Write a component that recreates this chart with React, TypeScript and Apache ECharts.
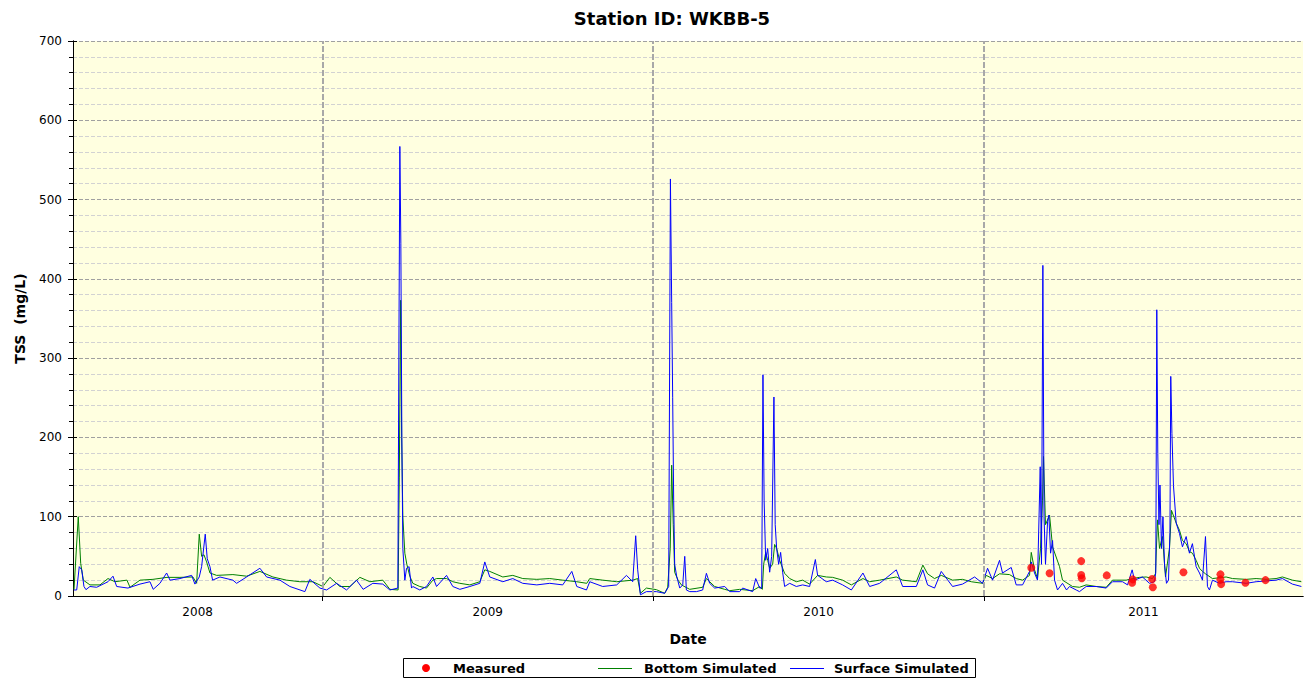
import React, { useEffect, useRef } from "react";
import * as echarts from "echarts";

// x values are days since 2008-04-01 (start of the plotted period)
const START_DATE = "2008-04-01";
const TOTAL_DAYS = 1357;
const yearBoundaryDays = [275, 640, 1005]; // Jan 1 of 2009, 2010, 2011
const yearLabels = ["2008", "2009", "2010", "2011"];
const yearLabelDays = [137.5, 457.5, 822.5, 1181];

const bottomSimulated: [number, number][] = [
  [1.1, 8], [5.8, 100], [8.5, 41], [11.4, 20], [18.7, 14], [29.8, 14], [38.6, 22], [46.3, 18], [59.5, 20], [62.9, 11],
  [73.9, 20], [88.2, 21], [103.7, 23.5], [118, 23.5], [132.3, 24], [136.4, 16], [139.3, 78], [141.9, 50], [144.5, 52], [147.4, 43],
  [151.1, 29], [158.5, 26], [176.4, 27], [191.5, 25], [206.2, 31], [220.5, 24], [235.6, 20], [250.3, 18], [264.7, 18], [275.7, 12],
  [283.4, 23.5], [294.4, 12], [305.5, 12], [316.5, 23.5], [327.5, 18], [341.8, 20], [349.6, 8.4], [358.7, 7.6], [360, 150], [361.5, 373],
  [362.6, 200], [363.9, 100], [366.1, 54], [368.3, 40], [371.6, 25], [374.9, 16], [382.6, 12], [390, 10], [397, 20], [401.1, 22],
  [412.1, 22], [419, 18], [426.8, 16], [437.8, 14], [448.8, 18], [454.3, 33], [459.8, 31], [474.2, 24], [485.2, 26], [496.2, 22],
  [511.7, 21], [526, 22], [540.3, 20], [555.8, 18], [566.8, 16], [570.1, 22], [584.4, 20], [599.9, 18], [617.5, 20], [623, 22],
  [626, 3.4], [632.6, 10], [643.6, 8], [652.8, 3.4], [656.1, 11], [658.9, 60], [660.5, 165], [662.2, 90], [663.8, 30], [667.5, 20],
  [671.2, 14], [680.4, 8.4], [694.7, 11], [698.8, 22], [702.4, 18], [707.9, 12], [719, 8.4], [724.5, 6.7], [735.5, 8.4], [749.8, 6.7],
  [757.6, 12], [760.5, 8.4], [762, 40], [764.2, 55], [766.4, 45], [768.6, 35], [771.9, 40], [774.1, 65], [776.3, 60], [779.6, 45],
  [785.1, 28.6], [790.7, 22], [798, 18], [805, 20], [812.7, 15], [821.5, 26], [831.1, 24], [838.1, 23.5], [849.1, 20], [858.7, 14],
  [871.5, 22], [878.9, 18], [889.9, 20], [908.3, 24], [915.3, 20], [930.4, 18], [937.6, 39], [942.8, 28], [950.5, 22], [957.9, 26],
  [970.4, 20], [981.4, 21], [991, 18], [1003.5, 16], [1007.5, 26], [1014.5, 22], [1022.2, 28], [1033.2, 27], [1040.6, 22], [1047.6, 20],
  [1055.3, 26], [1057.2, 55], [1060.8, 33], [1064.1, 22], [1067.4, 60], [1069.6, 120], [1070.7, 176], [1072.9, 90], [1077.4, 102], [1080.7, 62],
  [1088.4, 37], [1091.7, 20], [1102.7, 12], [1110.4, 11], [1117.8, 14], [1128.8, 12], [1139.9, 11], [1146.8, 20], [1161.9, 20], [1168.9, 22],
  [1176.6, 23.5], [1184, 24], [1190.9, 22], [1194.2, 28], [1196.5, 96], [1198.7, 60], [1202, 75], [1205.3, 24], [1209.7, 60], [1211.9, 108],
  [1217.1, 92], [1220.7, 83], [1224, 70], [1228.1, 66], [1231.7, 56], [1235, 54], [1239.1, 45], [1242.8, 35], [1246.1, 31], [1249.4, 28],
  [1257.1, 22], [1264.8, 23], [1272.2, 24], [1279.2, 22], [1294.3, 21], [1305.3, 22], [1316.3, 21], [1327.3, 22], [1334.3, 24], [1345.3, 20],
  [1355.2, 18],
];

const surfaceSimulated: [number, number][] = [
  [1.1, 7.6], [4.1, 7.6], [6.9, 37], [9.6, 33], [12.1, 12], [14.3, 8], [18.7, 12], [26.1, 11], [38.6, 18], [44.1, 25],
  [48.2, 12], [60.6, 10], [73.9, 15], [84.9, 18], [88.5, 8.4], [95.9, 16], [103.3, 29], [107, 20], [118, 22], [130.9, 26],
  [134.5, 15], [139.3, 24], [141.9, 37], [145.9, 78], [148.1, 47], [151.1, 37], [154, 20], [162.1, 24], [176.4, 20], [180.5, 16],
  [191.5, 24], [206.2, 35], [213.6, 24], [228.3, 20], [239.3, 12], [255.8, 5.5], [261.3, 21], [272.4, 10], [279.8, 7.6], [290.8, 16],
  [301.8, 7.6], [312.8, 20], [320.1, 8.4], [330.8, 16], [341.8, 15], [349.6, 7.6], [358.4, 10], [359.5, 300], [360.6, 567], [361.7, 445],
  [362.8, 200], [363.9, 60], [366.1, 20], [368, 35], [370.8, 37], [373.5, 10], [374.9, 12], [382.6, 7.6], [390, 12], [397, 24],
  [401.1, 12], [412.1, 26], [419, 12], [426.8, 8.4], [437.8, 12], [448.8, 16], [454.3, 43], [459.8, 24], [474.2, 18], [485.2, 22],
  [496.2, 16], [511.7, 14], [526, 16], [540.3, 14], [550.3, 31], [555.8, 12], [566.5, 7.6], [570.1, 18], [584.4, 12], [599.9, 14],
  [610.6, 26], [617.5, 18], [620.8, 76], [623, 33], [626, 1.5], [632.6, 5.5], [643.6, 5.5], [652.8, 3.4], [657.2, 12], [659.1, 526],
  [660.5, 370], [661.6, 250], [662.7, 120], [663.8, 40], [666, 25], [669.4, 10], [672.7, 14], [674.9, 50], [676.7, 7.6], [680.4, 5.5],
  [687.8, 5.5], [694.7, 7.6], [698.8, 28.6], [702.4, 16], [707.9, 10], [719, 12], [724.5, 5.5], [735.5, 5.5], [738.8, 10], [749.8, 5.5],
  [753.2, 22], [757.6, 10], [759.8, 10], [761.2, 279], [762.5, 120], [764.2, 45], [766.4, 60], [768.6, 30], [770.8, 50], [773.3, 251],
  [774.7, 90], [776.3, 60], [778.5, 40], [780.7, 55], [782.9, 30], [785.1, 12], [790.7, 16], [798, 12], [805, 14], [812.7, 12],
  [819, 46], [821.5, 26], [831.1, 18], [838.1, 20], [849.1, 14], [858.7, 7.6], [871.5, 29], [878.9, 12], [889.9, 16], [908.3, 33],
  [915.3, 12], [930.4, 12], [937.6, 33], [942.8, 14], [950.5, 10], [957.9, 31], [970.4, 12], [981.4, 15], [994.7, 24], [1003.5, 16],
  [1009, 35], [1014.5, 20], [1022.2, 45], [1025.5, 29], [1035.1, 36], [1040.6, 14], [1047.6, 14], [1055.3, 31], [1057.2, 43], [1060.8, 29],
  [1064.1, 20], [1067.1, 163], [1068.5, 40], [1070, 417], [1071.3, 100], [1072.9, 40], [1075.2, 94], [1076.6, 102], [1078.5, 54], [1080.7, 70],
  [1082.9, 20], [1086.2, 7.6], [1091.7, 16], [1096.1, 7.6], [1099.4, 12], [1106.8, 7.6], [1110.4, 5.5], [1117.8, 12], [1128.8, 12], [1139.9, 10],
  [1146.8, 18], [1157.9, 18], [1163.4, 14], [1168.5, 33], [1171.1, 20], [1179.9, 24], [1187.6, 16], [1193.1, 18], [1194.6, 30], [1195.7, 361],
  [1196.8, 180], [1198.1, 90], [1199.2, 140], [1200.9, 60], [1202.5, 100], [1204.2, 40], [1206.4, 16], [1208.6, 20], [1210.2, 80], [1211.1, 277],
  [1212.4, 205], [1214.1, 139], [1217.1, 92], [1220.7, 79], [1224, 62], [1228.1, 75], [1231.7, 54], [1235, 66], [1239.1, 37], [1242.8, 29],
  [1246.1, 20], [1249.4, 75], [1251.6, 12], [1253.8, 7.6], [1257.1, 20], [1264.8, 16], [1272.2, 18], [1279.2, 18], [1294.3, 16], [1305.3, 18],
  [1316.3, 19], [1327.3, 20], [1334.3, 22], [1345.3, 15], [1355.2, 12],
];

const measured: [number, number][] = [
  [1057.2, 35.7], [1077.4, 28.6], [1112.3, 44], [1112.3, 26.5], [1112.9, 22.3], [1140.5, 26], [1168.5, 16.8], [1169.2, 21],
  [1190.6, 21.4], [1191.3, 11], [1225.1, 30], [1265.9, 27.3], [1265.9, 21], [1266.7, 15], [1293.5, 16.8], [1315.6, 20],
];

const seriesNames = ["Measured", "Bottom Simulated", "Surface Simulated"];

const FONT = "'DejaVu Sans', Verdana, sans-serif";
const GREEN = "#008000";
const BLUE = "#0000FF";
const RED = "#FF0000";

export default function App() {
  const ref = useRef<HTMLDivElement>(null);
  useEffect(() => {
    if (!ref.current) return;
    const chart = echarts.init(ref.current, null, { renderer: "svg" });
    const baseText = { fontFamily: FONT, color: "#000" };
    const legendTextStyle = (text: string, x: number) => ({
      type: "text",
      x,
      y: 668,
      style: {
        text,
        fill: "#000",
        fontFamily: FONT,
        fontSize: 13,
        fontWeight: "bold",
        verticalAlign: "middle",
        align: "left",
      },
    });
    const option: any = {
      animation: false,
      backgroundColor: "#ffffff",
      title: {
        text: "Station ID: WKBB-5",
        left: 667,
        top: 4,
        textAlign: "center",
        textStyle: { ...baseText, fontSize: 18, fontWeight: "bold" },
      },
      grid: {
        left: 73,
        right: 8,
        top: 41,
        bottom: 83,
        show: true,
        backgroundColor: "#FFFFE0",
        borderWidth: 0,
      },
      xAxis: [
        {
          type: "value",
          min: 0,
          max: TOTAL_DAYS,
          axisLine: { show: true, lineStyle: { color: "#000", width: 1 } },
          axisTick: { show: true, customValues: yearBoundaryDays, length: 5, lineStyle: { color: "#000" } },
          axisLabel: {
            customValues: yearLabelDays,
            formatter: (v: number) => {
              const i = yearLabelDays.indexOf(v);
              return i >= 0 ? yearLabels[i] : "";
            },
            margin: 10,
            ...baseText,
            fontSize: 12,
          },
          splitLine: { show: false },
          name: "Date",
          nameLocation: "middle",
          nameGap: 36,
          nameTextStyle: { ...baseText, fontSize: 14, fontWeight: "bold" },
        },
        {
          type: "value",
          position: "top",
          min: 0,
          max: TOTAL_DAYS,
          axisLine: { show: true, lineStyle: { color: "#000", width: 1 } },
          axisTick: { show: false },
          axisLabel: { show: false },
          splitLine: { show: false },
        },
      ],
      yAxis: [
        {
          type: "value",
          min: 0,
          max: 700,
          interval: 100,
          axisLine: { show: true, lineStyle: { color: "#000", width: 1 } },
          axisTick: { show: true, length: 5, lineStyle: { color: "#000" } },
          minorTick: { show: true, splitNumber: 5, length: 4, lineStyle: { color: "#000" } },
          axisLabel: { ...baseText, fontSize: 12, margin: 11 },
          splitLine: { show: true, lineStyle: { color: "#a0a0a0", type: [4, 2], width: 1 } },
          minorSplitLine: { show: true, lineStyle: { color: "#d2d2d2", type: [4, 2], width: 1 } },
          name: "TSS  (mg/L)",
          nameLocation: "middle",
          nameGap: 46,
          nameTextStyle: { ...baseText, fontSize: 14, fontWeight: "bold" },
        },
        {
          type: "value",
          position: "right",
          min: 0,
          max: 700,
          interval: 100,
          axisLine: { show: true, lineStyle: { color: "#000", width: 1 } },
          axisTick: { show: true, length: 4, lineStyle: { color: "#000" } },
          axisLabel: { show: false },
          splitLine: { show: false },
        },
      ],
      graphic: [
        {
          type: "group",
          children: [
            {
              type: "rect",
              shape: { x: 403.5, y: 658.5, width: 572, height: 19 },
              style: { fill: "#ffffff", stroke: "#000", lineWidth: 1 },
            },
            {
              type: "circle",
              shape: { cx: 426, cy: 668, r: 4 },
              style: { fill: RED },
            },
            legendTextStyle(seriesNames[0], 453),
            {
              type: "line",
              shape: { x1: 598, y1: 668.5, x2: 632, y2: 668.5 },
              style: { stroke: GREEN, lineWidth: 1 },
            },
            legendTextStyle(seriesNames[1], 644),
            {
              type: "line",
              shape: { x1: 790, y1: 668.5, x2: 824, y2: 668.5 },
              style: { stroke: BLUE, lineWidth: 1 },
            },
            legendTextStyle(seriesNames[2], 834),
          ],
        },
      ],
      series: [
        {
          name: "yearLines",
          type: "line",
          data: [],
          z: 1,
          silent: true,
          markLine: {
            silent: true,
            symbol: "none",
            label: { show: false },
            lineStyle: { color: "#a8a8a8", type: [6, 2], width: 2 },
            data: yearBoundaryDays.map((d) => ({ xAxis: d })),
          },
        },
        {
          name: seriesNames[1],
          type: "line",
          data: bottomSimulated,
          symbol: "none",
          z: 2,
          lineStyle: { color: GREEN, width: 1 },
          itemStyle: { color: GREEN },
        },
        {
          name: seriesNames[2],
          type: "line",
          data: surfaceSimulated,
          symbol: "none",
          z: 3,
          lineStyle: { color: BLUE, width: 1 },
          itemStyle: { color: BLUE },
        },
        {
          name: seriesNames[0],
          type: "scatter",
          data: measured,
          symbol: "circle",
          symbolSize: 8,
          z: 4,
          itemStyle: { color: RED },
        },
      ],
    };
    chart.setOption(option);
    return () => chart.dispose();
  }, []);
  return (
    <div
      ref={ref}
      data-start={START_DATE}
      style={{ position: "absolute", left: 0, top: 0, width: 1311, height: 679 }}
    />
  );
}
